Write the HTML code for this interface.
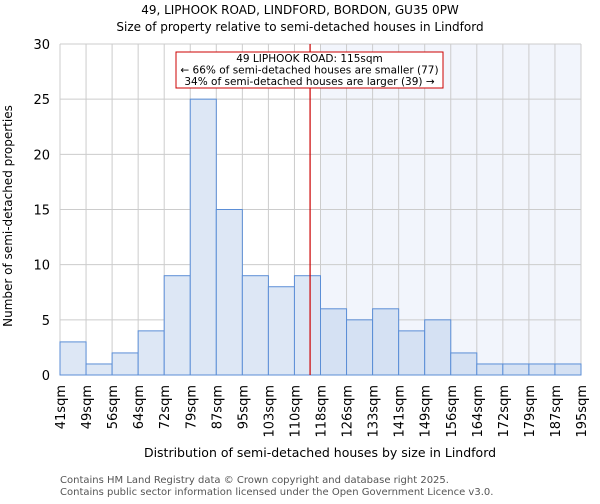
<!DOCTYPE html>
<html><head><meta charset="utf-8"><style>
body{margin:0;background:#fff;font-family:"DejaVu Sans","Liberation Sans",sans-serif}
svg text{font-family:"DejaVu Sans","Liberation Sans",sans-serif}
</style></head><body>
<svg id="c" width="600" height="500">
<text x="300" y="14" text-anchor="middle" font-size="12">49, LIPHOOK ROAD, LINDFORD, BORDON, GU35 0PW</text>
<text x="300" y="31" text-anchor="middle" font-size="12">Size of property relative to semi-detached houses in Lindford</text>
<g id="plot"></g>
<text x="320" y="457" text-anchor="middle" font-size="12.5">Distribution of semi-detached houses by size in Lindford</text>
<text transform="translate(12,216) rotate(-90)" text-anchor="middle" font-size="12">Number of semi-detached properties</text>
<text x="60" y="483" font-size="10" fill="#555">Contains HM Land Registry data © Crown copyright and database right 2025.</text>
<text x="60" y="495" font-size="10" fill="#555">Contains public sector information licensed under the Open Government Licence v3.0.</text>
</svg>
<script>
const tickLabels=["41sqm","49sqm","56sqm","64sqm","72sqm","79sqm","87sqm","95sqm","103sqm","110sqm","118sqm","126sqm","133sqm","141sqm","149sqm","156sqm","164sqm","172sqm","179sqm","187sqm","195sqm"];
const counts=[3,1,2,4,9,25,15,9,8,9,6,5,6,4,5,2,1,1,1,1];
const yTicks=[0,5,10,15,20,25,30];
const subjectBin=9.6;
const L=60,R=581,T=44,B=375,NS="http://www.w3.org/2000/svg";
const n=counts.length,bw=(R-L)/n;
const x=i=>L+i*bw, y=v=>B-(v/30)*(B-T);
const g=document.getElementById('plot');
function mk(t,a){const e=document.createElementNS(NS,t);for(const k in a)e.setAttribute(k,a[k]);g.appendChild(e);return e;}
let hr=mk('rect',{x:x(10),y:T,width:R-x(10),height:B-T,fill:'#f2f5fc'});


yTicks.forEach(v=>{let l=mk('line',{x1:L,x2:R,y1:y(v),y2:y(v),stroke:'#ccc','stroke-width':1});


let t=mk('text',{x:L-10,y:y(v)+5,'text-anchor':'end','font-size':13});t.textContent=v;

});
tickLabels.forEach((s,i)=>{let l=mk('line',{x1:x(i),x2:x(i),y1:T,y2:B,stroke:'#ccc','stroke-width':1});


let t=mk('text',{transform:`translate(${x(i)+5},${B+10}) rotate(-90)`,'text-anchor':'end','font-size':13});t.textContent=s;

});
counts.forEach((v,i)=>{let r=mk('rect',{x:x(i),y:y(v),width:bw,height:B-y(v),fill:i>=10?'#d5e1f3':'#dde7f5',stroke:'#5b8ed6','stroke-width':1});

});
let rl=mk('line',{x1:x(subjectBin),x2:x(subjectBin),y1:T,y2:B,stroke:'#cc0000','stroke-width':1.2});


let bx=mk('rect',{x:176,y:52,width:267,height:36,fill:'#fff',stroke:'#cc0000','stroke-width':1});


["49 LIPHOOK ROAD: 115sqm","← 66% of semi-detached houses are smaller (77)","34% of semi-detached houses are larger (39) →"].forEach((s,i)=>{let t=mk('text',{x:309.5,y:62+i*11.5,'text-anchor':'middle','font-size':10.5});t.textContent=s;

});
</script>
</body></html>
